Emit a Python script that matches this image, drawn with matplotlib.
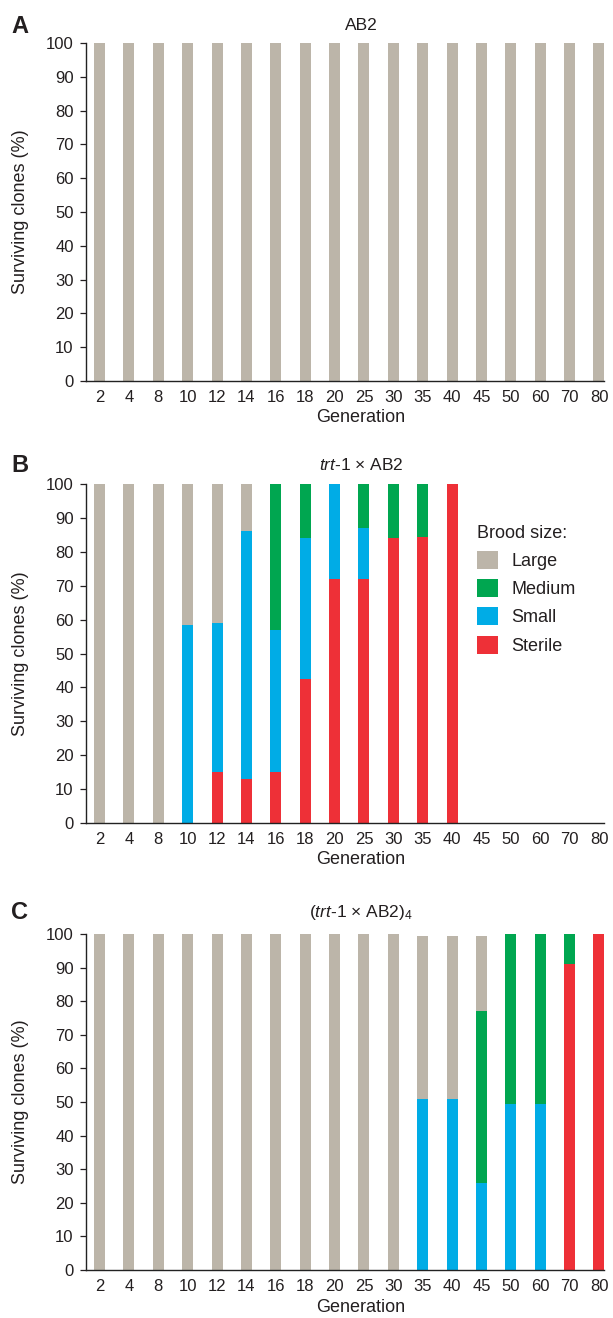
import numpy as np
import matplotlib
matplotlib.use("Agg")
import matplotlib.pyplot as plt
from matplotlib.patches import Patch

plt.rcParams['font.family'] = ['Liberation Sans', 'DejaVu Sans']
plt.rcParams['mathtext.fontset'] = 'custom'
plt.rcParams['mathtext.rm'] = 'Liberation Sans'
plt.rcParams['mathtext.it'] = 'Liberation Sans:italic'

# data
generations = ['2', '4', '8', '10', '12', '14', '16', '18', '20', '25',
               '30', '35', '40', '45', '50', '60', '70', '80']
categories = ['Large', 'Medium', 'Small', 'Sterile']
colors = {'Large': '#bcb5a9', 'Medium': '#00a650', 'Small': '#00ace6', 'Sterile': '#ee3037'}

# panel A: AB2
large_a = [100] * 18
medium_a = [0] * 18
small_a = [0] * 18
sterile_a = [0] * 18

# panel B: trt-1 x AB2
sterile_b = [0, 0, 0, 0, 15, 13, 15, 42.5, 72, 72, 84, 84.5, 100, 0, 0, 0, 0, 0]
small_b = [0, 0, 0, 58.5, 44, 73, 42, 41.5, 28, 15, 0, 0, 0, 0, 0, 0, 0, 0]
medium_b = [0, 0, 0, 0, 0, 0, 43, 16, 0, 13, 16, 15.5, 0, 0, 0, 0, 0, 0]
large_b = [100, 100, 100, 41.5, 41, 14, 0, 0, 0, 0, 0, 0, 0, 0, 0, 0, 0, 0]

# panel C: (trt-1 x AB2)4
sterile_c = [0, 0, 0, 0, 0, 0, 0, 0, 0, 0, 0, 0, 0, 0, 0, 0, 91, 100]
small_c = [0, 0, 0, 0, 0, 0, 0, 0, 0, 0, 0, 51, 51, 26, 49.5, 49.5, 0, 0]
medium_c = [0, 0, 0, 0, 0, 0, 0, 0, 0, 0, 0, 0, 0, 51, 50.5, 50.5, 9.5, 0]
large_c = [100, 100, 100, 100, 100, 100, 100, 100, 100, 100, 100, 48.5, 48.5, 22.5, 0, 0, 0, 0]

panels = [
    ('A', 'AB2', sterile_a, small_a, medium_a, large_a),
    ('B', r'$\mathit{trt}$-$\mathit{1}$ × AB2', sterile_b, small_b, medium_b, large_b),
    ('C', r'($\mathit{trt}$-$\mathit{1}$ × AB2)$_{4}$', sterile_c, small_c, medium_c, large_c),
]

W, H = 613, 1318
fig = plt.figure(figsize=(W / 100, H / 100), dpi=100)
text_color = '#231f20'

# axes rectangles in pixels: (y of 100, y of 0)
ax_pix = [(43, 381), (484, 823), (934, 1270)]
title_y = [26, 465, 912]
left_px, right_px = 85.5, 604

x = np.arange(len(generations))
for (letter, title, ster, sm, med, lg), (ytop, ybot), ty in zip(panels, ax_pix, title_y):
    ax = fig.add_axes([left_px / W, 1 - ybot / H, (right_px - left_px) / W, (ybot - ytop) / H])
    bottom = np.zeros(len(x))
    for name, vals in [('Sterile', ster), ('Small', sm), ('Medium', med), ('Large', lg)]:
        vals = np.array(vals, dtype=float)
        ax.bar(x, vals, width=0.375, bottom=bottom, color=colors[name], linewidth=0)
        bottom += vals
    ax.set_xlim(-0.48, 17.17)
    ax.set_ylim(0, 100)
    ax.set_yticks(range(0, 101, 10))
    ax.set_xticks(x)
    ax.set_xticklabels(generations)
    ax.tick_params(axis='x', length=0, pad=6.5, labelsize=12, colors=text_color)
    ax.tick_params(axis='y', length=4.5, width=0.9, pad=4, labelsize=12, colors=text_color)
    for s in ['top', 'right']:
        ax.spines[s].set_visible(False)
    for s in ['left', 'bottom']:
        ax.spines[s].set_linewidth(1.0)
        ax.spines[s].set_color('#222222')
    ax.set_ylabel('Surviving clones (%)', fontsize=13, color=text_color, va='center')
    ax.set_xlabel('Generation', fontsize=13, color=text_color, va='center')
    ax.yaxis.set_label_coords((21 - left_px) / (right_px - left_px), 0.5)
    ax.xaxis.set_label_coords(0.5 + (361 - (left_px + right_px) / 2) / (right_px - left_px),
                              -37 / (ybot - ytop))
    fig.text(361 / W, 1 - ty / H, title, ha='center', va='center', fontsize=12.5, color=text_color)
    fig.text(11 / W, 1 - (ty + 0.5) / H, letter, ha='left', va='center', fontsize=17,
             fontweight='bold', color=text_color)

    if letter == 'B':
        handles = [Patch(facecolor=colors[c], edgecolor='none', label=c) for c in categories]
        leg = ax.legend(handles=handles, title='Brood size:', loc='upper left',
                        bbox_to_anchor=(477 / W, 1 - 525 / H), bbox_transform=fig.transFigure,
                        frameon=False, fontsize=13, title_fontsize=13,
                        handlelength=1.16, handleheight=1.16, labelspacing=0.5,
                        handletextpad=0.75, borderpad=0, borderaxespad=0, alignment='left')
        for t in leg.get_texts():
            t.set_color(text_color)
        leg.get_title().set_color(text_color)

fig.savefig('out.png', dpi=100)
